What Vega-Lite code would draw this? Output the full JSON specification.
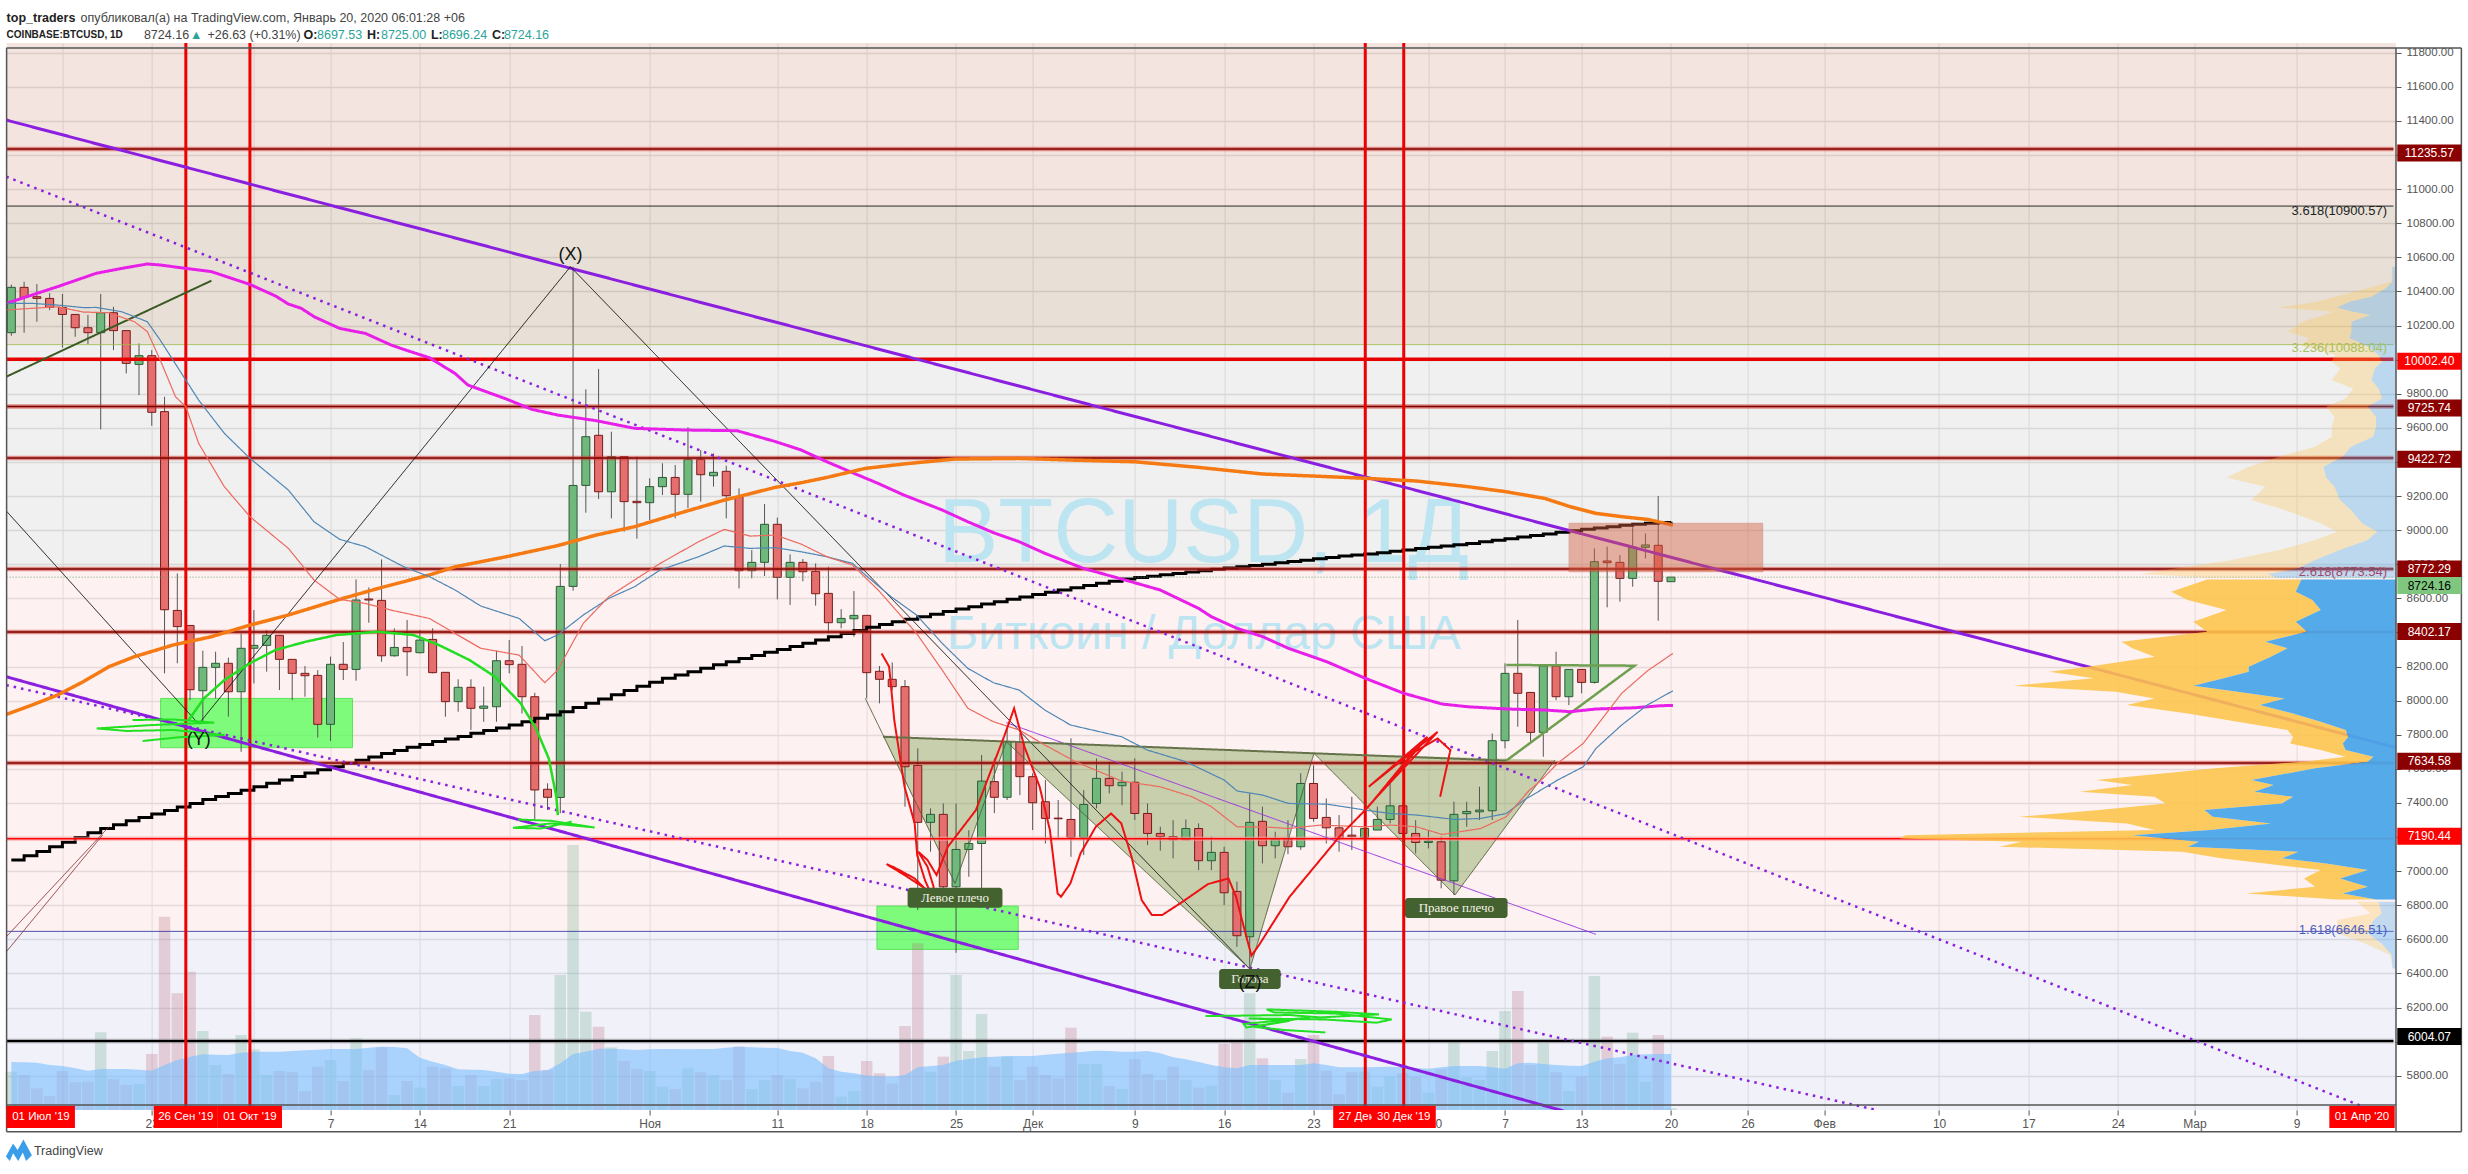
{"$schema":"https://vega.github.io/schema/vega-lite/v6.json","width":2389.4,"height":1067,"autosize":{"type":"none"},"padding":{"left":6.6,"top":43,"right":72,"bottom":64},"background":"#ffffff","usermeta":{"embedOptions":{"actions":false}},"config":{"view":{"stroke":null}},
"datasets":{
"candles":[
{"d":"2019-09-12","o":10158,"h":10440,"l":10140,"c":10424,"v":115,"m":144,"k":7065},{"d":"2019-09-13","o":10424,"h":10457,"l":10158,"c":10365,"v":105,"m":143,"k":7090},{"d":"2019-09-14","o":10369,"h":10443,"l":10222,"c":10359,"v":65,"m":142,"k":7115},{"d":"2019-09-15","o":10359,"h":10390,"l":10290,"c":10306,"v":42,"m":135,"k":7143},{"d":"2019-09-16","o":10306,"h":10385,"l":10070,"c":10265,"v":117,"m":132,"k":7170},{"d":"2019-09-17","o":10265,"h":10265,"l":10134,"c":10187,"v":83,"m":125,"k":7197},{"d":"2019-09-18","o":10187,"h":10262,"l":10089,"c":10158,"v":85,"m":118,"k":7225},{"d":"2019-09-19","o":10158,"h":10385,"l":9591,"c":10275,"v":233,"m":123,"k":7250},{"d":"2019-09-20","o":10275,"h":10310,"l":10056,"c":10170,"v":93,"m":123,"k":7272},{"d":"2019-09-21","o":10170,"h":10170,"l":9919,"c":9978,"v":75,"m":123,"k":7295},{"d":"2019-09-22","o":9972,"h":10095,"l":9792,"c":10023,"v":78,"m":121,"k":7315},{"d":"2019-09-23","o":10023,"h":10056,"l":9612,"c":9691,"v":168,"m":118,"k":7335},{"d":"2019-09-24","o":9695,"h":9782,"l":8160,"c":8533,"v":580,"m":135,"k":7355},{"d":"2019-09-25","o":8529,"h":8746,"l":8219,"c":8434,"v":350,"m":150,"k":7376},{"d":"2019-09-26","o":8441,"h":8441,"l":8003,"c":8064,"v":415,"m":160,"k":7397},{"d":"2019-09-27","o":8058,"h":8293,"l":7867,"c":8195,"v":237,"m":167,"k":7420},{"d":"2019-09-28","o":8195,"h":8287,"l":8013,"c":8219,"v":135,"m":166,"k":7438},{"d":"2019-09-29","o":8219,"h":8252,"l":7906,"c":8052,"v":108,"m":165,"k":7455},{"d":"2019-09-30","o":8052,"h":8394,"l":7700,"c":8307,"v":225,"m":172,"k":7475},
{"d":"2019-10-01","o":8307,"h":8531,"l":8101,"c":8324,"v":182,"m":175,"k":7495},{"d":"2019-10-02","o":8324,"h":8414,"l":8170,"c":8383,"v":105,"m":175,"k":7515},{"d":"2019-10-03","o":8383,"h":8383,"l":8062,"c":8242,"v":117,"m":175,"k":7535},{"d":"2019-10-04","o":8242,"h":8242,"l":8003,"c":8160,"v":114,"m":177,"k":7555},{"d":"2019-10-05","o":8160,"h":8203,"l":8023,"c":8146,"v":57,"m":179,"k":7575},{"d":"2019-10-06","o":8148,"h":8179,"l":7783,"c":7861,"v":130,"m":181,"k":7595},{"d":"2019-10-07","o":7861,"h":8258,"l":7763,"c":8213,"v":150,"m":183,"k":7612},{"d":"2019-10-08","o":8213,"h":8344,"l":8121,"c":8183,"v":87,"m":183,"k":7632},{"d":"2019-10-09","o":8183,"h":8711,"l":8117,"c":8590,"v":215,"m":183,"k":7650},{"d":"2019-10-10","o":8596,"h":8664,"l":8457,"c":8590,"v":120,"m":187,"k":7670},{"d":"2019-10-11","o":8588,"h":8828,"l":8228,"c":8263,"v":188,"m":190,"k":7690},{"d":"2019-10-12","o":8263,"h":8424,"l":8258,"c":8312,"v":45,"m":189,"k":7708},{"d":"2019-10-13","o":8312,"h":8473,"l":8144,"c":8287,"v":87,"m":185,"k":7726},{"d":"2019-10-14","o":8281,"h":8414,"l":8277,"c":8355,"v":67,"m":157,"k":7743},{"d":"2019-10-15","o":8359,"h":8424,"l":8160,"c":8164,"v":130,"m":145,"k":7760},{"d":"2019-10-16","o":8166,"h":8166,"l":7906,"c":7994,"v":125,"m":135,"k":7775},{"d":"2019-10-17","o":7994,"h":8125,"l":7935,"c":8078,"v":72,"m":122,"k":7790},{"d":"2019-10-18","o":8078,"h":8125,"l":7828,"c":7955,"v":105,"m":121,"k":7808},{"d":"2019-10-19","o":7955,"h":8082,"l":7876,"c":7968,"v":72,"m":120,"k":7825},{"d":"2019-10-20","o":7964,"h":8293,"l":7876,"c":8234,"v":93,"m":115,"k":7840},{"d":"2019-10-21","o":8234,"h":8355,"l":8160,"c":8211,"v":95,"m":109,"k":7857},{"d":"2019-10-22","o":8213,"h":8320,"l":7925,"c":8023,"v":90,"m":108,"k":7876},{"d":"2019-10-23","o":8023,"h":8046,"l":7299,"c":7476,"v":285,"m":117,"k":7896},{"d":"2019-10-24","o":7480,"h":7515,"l":7358,"c":7433,"v":120,"m":119,"k":7915},{"d":"2019-10-25","o":7432,"h":8801,"l":7340,"c":8670,"v":405,"m":140,"k":7935},{"d":"2019-10-26","o":8670,"h":10545,"l":8645,"c":9262,"v":795,"m":168,"k":7960},{"d":"2019-10-27","o":9262,"h":9826,"l":9102,"c":9548,"v":295,"m":175,"k":7985},{"d":"2019-10-28","o":9556,"h":9945,"l":9182,"c":9225,"v":250,"m":184,"k":8010},{"d":"2019-10-29","o":9225,"h":9577,"l":9069,"c":9431,"v":188,"m":184,"k":8035},{"d":"2019-10-30","o":9431,"h":9431,"l":8991,"c":9167,"v":147,"m":182,"k":8060},{"d":"2019-10-31","o":9169,"h":9431,"l":8950,"c":9161,"v":123,"m":180,"k":8085},
{"d":"2019-11-01","o":9161,"h":9304,"l":9059,"c":9255,"v":117,"m":182,"k":8108},{"d":"2019-11-02","o":9255,"h":9392,"l":9206,"c":9309,"v":70,"m":183,"k":8131},{"d":"2019-11-03","o":9309,"h":9382,"l":9069,"c":9210,"v":63,"m":183,"k":8150},{"d":"2019-11-04","o":9210,"h":9603,"l":9128,"c":9415,"v":125,"m":182,"k":8170},{"d":"2019-11-05","o":9415,"h":9470,"l":9167,"c":9325,"v":113,"m":183,"k":8190},{"d":"2019-11-06","o":9319,"h":9450,"l":9255,"c":9339,"v":105,"m":183,"k":8210},{"d":"2019-11-07","o":9345,"h":9378,"l":9069,"c":9202,"v":90,"m":187,"k":8228},{"d":"2019-11-08","o":9196,"h":9245,"l":8658,"c":8762,"v":190,"m":190,"k":8247},{"d":"2019-11-09","o":8762,"h":8883,"l":8717,"c":8811,"v":63,"m":188,"k":8265},{"d":"2019-11-10","o":8811,"h":9153,"l":8731,"c":9034,"v":90,"m":187,"k":8283},{"d":"2019-11-11","o":9034,"h":9073,"l":8594,"c":8723,"v":105,"m":186,"k":8300},{"d":"2019-11-12","o":8723,"h":8858,"l":8561,"c":8811,"v":93,"m":177,"k":8318},{"d":"2019-11-13","o":8811,"h":8830,"l":8700,"c":8756,"v":65,"m":172,"k":8336},{"d":"2019-11-14","o":8758,"h":8805,"l":8557,"c":8627,"v":85,"m":155,"k":8355},{"d":"2019-11-15","o":8629,"h":8785,"l":8394,"c":8457,"v":162,"m":125,"k":8375},{"d":"2019-11-16","o":8457,"h":8537,"l":8424,"c":8482,"v":40,"m":115,"k":8393},{"d":"2019-11-17","o":8480,"h":8643,"l":8375,"c":8500,"v":57,"m":110,"k":8412},{"d":"2019-11-18","o":8500,"h":8500,"l":8013,"c":8164,"v":147,"m":103,"k":8430},{"d":"2019-11-19","o":8172,"h":8203,"l":7984,"c":8125,"v":110,"m":101,"k":8446},{"d":"2019-11-20","o":8125,"h":8224,"l":8060,"c":8082,"v":79,"m":100,"k":8462},{"d":"2019-11-21","o":8082,"h":8121,"l":7378,"c":7612,"v":252,"m":105,"k":8477},{"d":"2019-11-22","o":7620,"h":7720,"l":6772,"c":7286,"v":500,"m":128,"k":8492},{"d":"2019-11-23","o":7286,"h":7368,"l":7114,"c":7333,"v":115,"m":132,"k":8507},{"d":"2019-11-24","o":7333,"h":7397,"l":6860,"c":6908,"v":160,"m":135,"k":8522},{"d":"2019-11-25","o":6908,"h":7397,"l":6521,"c":7127,"v":405,"m":148,"k":8537},{"d":"2019-11-26","o":7127,"h":7240,"l":6967,"c":7162,"v":177,"m":153,"k":8551},{"d":"2019-11-27","o":7162,"h":7681,"l":6801,"c":7528,"v":288,"m":158,"k":8566},{"d":"2019-11-28","o":7525,"h":7661,"l":7340,"c":7433,"v":130,"m":160,"k":8580},{"d":"2019-11-29","o":7433,"h":7840,"l":7417,"c":7759,"v":160,"m":162,"k":8594},{"d":"2019-11-30","o":7759,"h":7808,"l":7446,"c":7554,"v":90,"m":162,"k":8608},
{"d":"2019-12-01","o":7554,"h":7574,"l":7241,"c":7401,"v":130,"m":162,"k":8622},{"d":"2019-12-02","o":7407,"h":7534,"l":7162,"c":7309,"v":105,"m":166,"k":8636},{"d":"2019-12-03","o":7311,"h":7417,"l":7192,"c":7307,"v":95,"m":169,"k":8649},{"d":"2019-12-04","o":7303,"h":7779,"l":7084,"c":7198,"v":247,"m":172,"k":8662},{"d":"2019-12-05","o":7198,"h":7475,"l":7094,"c":7391,"v":138,"m":175,"k":8675},{"d":"2019-12-06","o":7397,"h":7661,"l":7368,"c":7544,"v":138,"m":178,"k":8688},{"d":"2019-12-07","o":7544,"h":7642,"l":7456,"c":7501,"v":72,"m":177,"k":8700},{"d":"2019-12-08","o":7501,"h":7583,"l":7387,"c":7521,"v":63,"m":175,"k":8713},{"d":"2019-12-09","o":7521,"h":7661,"l":7300,"c":7338,"v":153,"m":175,"k":8722},{"d":"2019-12-10","o":7338,"h":7397,"l":7153,"c":7221,"v":108,"m":177,"k":8730},{"d":"2019-12-11","o":7221,"h":7260,"l":7120,"c":7202,"v":90,"m":170,"k":8738},{"d":"2019-12-12","o":7202,"h":7299,"l":7075,"c":7184,"v":130,"m":158,"k":8746},{"d":"2019-12-13","o":7184,"h":7303,"l":7182,"c":7250,"v":90,"m":152,"k":8754},{"d":"2019-12-14","o":7250,"h":7280,"l":7006,"c":7061,"v":67,"m":144,"k":8762},{"d":"2019-12-15","o":7061,"h":7202,"l":7006,"c":7110,"v":73,"m":135,"k":8770},{"d":"2019-12-16","o":7110,"h":7143,"l":6801,"c":6873,"v":198,"m":128,"k":8778},{"d":"2019-12-17","o":6881,"h":6938,"l":6556,"c":6621,"v":205,"m":125,"k":8785},{"d":"2019-12-18","o":6615,"h":7456,"l":6426,"c":7286,"v":350,"m":135,"k":8792},{"d":"2019-12-19","o":7292,"h":7378,"l":7045,"c":7149,"v":155,"m":135,"k":8800},{"d":"2019-12-20","o":7149,"h":7231,"l":7075,"c":7188,"v":90,"m":135,"k":8808},{"d":"2019-12-21","o":7192,"h":7299,"l":7100,"c":7143,"v":52,"m":135,"k":8816},{"d":"2019-12-22","o":7143,"h":7574,"l":7125,"c":7514,"v":153,"m":135,"k":8824},{"d":"2019-12-23","o":7514,"h":7620,"l":7290,"c":7309,"v":225,"m":140,"k":8832},{"d":"2019-12-24","o":7315,"h":7426,"l":7162,"c":7254,"v":118,"m":135,"k":8840},{"d":"2019-12-25","o":7254,"h":7329,"l":7114,"c":7192,"v":47,"m":128,"k":8848},{"d":"2019-12-26","o":7211,"h":7436,"l":7123,"c":7202,"v":113,"m":128,"k":8854},{"d":"2019-12-27","o":7196,"h":7358,"l":7075,"c":7250,"v":115,"m":128,"k":8860},{"d":"2019-12-28","o":7241,"h":7378,"l":7241,"c":7303,"v":70,"m":129,"k":8868},{"d":"2019-12-29","o":7303,"h":7514,"l":7280,"c":7383,"v":100,"m":130,"k":8876},{"d":"2019-12-30","o":7383,"h":7397,"l":7153,"c":7221,"v":110,"m":128,"k":8884},{"d":"2019-12-31","o":7221,"h":7299,"l":7104,"c":7168,"v":100,"m":126,"k":8892},
{"d":"2020-01-01","o":7168,"h":7241,"l":7133,"c":7176,"v":52,"m":124,"k":8900},{"d":"2020-01-02","o":7172,"h":7202,"l":6899,"c":6947,"v":122,"m":128,"k":8907},{"d":"2020-01-03","o":6943,"h":7407,"l":6860,"c":7333,"v":205,"m":132,"k":8914},{"d":"2020-01-04","o":7337,"h":7407,"l":7260,"c":7350,"v":98,"m":132,"k":8922},{"d":"2020-01-05","o":7348,"h":7495,"l":7300,"c":7358,"v":90,"m":132,"k":8932},{"d":"2020-01-06","o":7354,"h":7808,"l":7300,"c":7765,"v":177,"m":128,"k":8941},{"d":"2020-01-07","o":7765,"h":8219,"l":7720,"c":8160,"v":297,"m":124,"k":8950},{"d":"2020-01-08","o":8160,"h":8473,"l":7847,"c":8043,"v":357,"m":140,"k":8960},{"d":"2020-01-09","o":8048,"h":8048,"l":7759,"c":7814,"v":135,"m":142,"k":8969},{"d":"2020-01-10","o":7814,"h":8203,"l":7671,"c":8203,"v":200,"m":138,"k":8978},{"d":"2020-01-11","o":8203,"h":8287,"l":8003,"c":8023,"v":113,"m":135,"k":8988},{"d":"2020-01-12","o":8023,"h":8183,"l":7974,"c":8183,"v":57,"m":133,"k":8997},{"d":"2020-01-13","o":8183,"h":8183,"l":8043,"c":8107,"v":100,"m":132,"k":9005},{"d":"2020-01-14","o":8107,"h":8893,"l":8100,"c":8815,"v":402,"m":145,"k":9012},{"d":"2020-01-15","o":8819,"h":8903,"l":8547,"c":8809,"v":220,"m":155,"k":9020},{"d":"2020-01-16","o":8811,"h":8854,"l":8580,"c":8717,"v":138,"m":158,"k":9028},{"d":"2020-01-17","o":8717,"h":9020,"l":8668,"c":8901,"v":232,"m":165,"k":9034},{"d":"2020-01-18","o":8899,"h":8981,"l":8834,"c":8913,"v":85,"m":167,"k":9040},{"d":"2020-01-19","o":8911,"h":9200,"l":8469,"c":8700,"v":225,"m":168,"k":9045},{"d":"2020-01-20","o":8697.53,"h":8725,"l":8696.24,"c":8724.16,"v":5,"m":168,"k":9049}
],
"profile":[
{"p":10545,"sell":3.6,"buy":3.6,"z":"out"},{"p":10457,"sell":4.7,"buy":3.6,"z":"out"},{"p":10418,"sell":28.3,"buy":10.1,"z":"out"},{"p":10369,"sell":60.9,"buy":24.6,"z":"out"},{"p":10340,"sell":79,"buy":46.4,"z":"out"},{"p":10306,"sell":117,"buy":59.1,"z":"out"},{"p":10281,"sell":62.7,"buy":42.8,"z":"out"},{"p":10261,"sell":71.7,"buy":25.4,"z":"out"},{"p":10222,"sell":93.5,"buy":44.6,"z":"out"},{"p":10164,"sell":108,"buy":44.6,"z":"out"},{"p":10125,"sell":86.2,"buy":46.4,"z":"out"},{"p":10085,"sell":95.3,"buy":30.1,"z":"out"},{"p":10027,"sell":60.9,"buy":17.4,"z":"out"},{"p":9988,"sell":64.5,"buy":13.8,"z":"out"},{"p":9949,"sell":55.4,"buy":21,"z":"out"},{"p":9880,"sell":64.5,"buy":24.6,"z":"out"},{"p":9831,"sell":42.8,"buy":17.4,"z":"out"},{"p":9773,"sell":50,"buy":13.8,"z":"out"},{"p":9724,"sell":69.8,"buy":28.2,"z":"out"},{"p":9665,"sell":61.5,"buy":19.9,"z":"out"},{"p":9607,"sell":64.2,"buy":19.9,"z":"out"},{"p":9548,"sell":64.2,"buy":22.7,"z":"out"},{"p":9489,"sell":80.8,"buy":44.9,"z":"out"},{"p":9431,"sell":116.8,"buy":53.2,"z":"out"},{"p":9372,"sell":147.3,"buy":72.5,"z":"out"},{"p":9309,"sell":169.4,"buy":69.8,"z":"out"},{"p":9255,"sell":130.7,"buy":61.5,"z":"out"},{"p":9176,"sell":144.5,"buy":55.9,"z":"out"},{"p":9118,"sell":111.3,"buy":44.9,"z":"out"},{"p":9040,"sell":75.3,"buy":33.8,"z":"out"},{"p":8991,"sell":58.7,"buy":18.8,"z":"out"},{"p":8942,"sell":80.8,"buy":28.2,"z":"out"},{"p":8883,"sell":116.8,"buy":55.9,"z":"out"},{"p":8825,"sell":163.9,"buy":80.8,"z":"out"},{"p":8776,"sell":219.3,"buy":97.5,"z":"out"},{"p":8742,"sell":255.3,"buy":127.9,"z":"out"},{"p":8720,"sell":186,"buy":119.6,"z":"out"},
{"p":8711,"sell":188.8,"buy":94.7,"z":"va"},{"p":8639,"sell":224.8,"buy":100.2,"z":"va"},{"p":8590,"sell":208.2,"buy":83.6,"z":"va"},{"p":8531,"sell":169.4,"buy":75.3,"z":"va"},{"p":8463,"sell":202.7,"buy":100.2,"z":"va"},{"p":8404,"sell":188.8,"buy":89.1,"z":"va"},{"p":8346,"sell":274.6,"buy":130.7,"z":"va"},{"p":8307,"sell":263.6,"buy":108.5,"z":"va"},{"p":8258,"sell":241.4,"buy":125.1,"z":"va"},{"p":8199,"sell":307.9,"buy":147.3,"z":"va"},{"p":8170,"sell":346.6,"buy":147.3,"z":"va"},{"p":8131,"sell":302.3,"buy":172.2,"z":"va"},{"p":8087,"sell":382.6,"buy":202.7,"z":"va"},{"p":8052,"sell":280.2,"buy":158.4,"z":"va"},{"p":8013,"sell":241.4,"buy":111.3,"z":"va"},{"p":7974,"sell":269.1,"buy":136.2,"z":"va"},{"p":7925,"sell":208.2,"buy":103,"z":"va"},{"p":7876,"sell":158.4,"buy":75.3,"z":"va"},{"p":7828,"sell":108.5,"buy":50.4,"z":"va"},{"p":7788,"sell":103,"buy":47.6,"z":"va"},{"p":7749,"sell":105.8,"buy":53.2,"z":"va"},{"p":7710,"sell":75.3,"buy":50.4,"z":"va"},{"p":7671,"sell":50.4,"buy":22.7,"z":"va"},{"p":7642,"sell":91.9,"buy":28.2,"z":"va"},{"p":7603,"sell":180.5,"buy":80.8,"z":"va"},{"p":7534,"sell":299.6,"buy":144.5,"z":"va"},{"p":7505,"sell":263.6,"buy":122.4,"z":"va"},{"p":7466,"sell":316.2,"buy":141.7,"z":"va"},{"p":7436,"sell":241.4,"buy":103,"z":"va"},{"p":7397,"sell":230.3,"buy":114.1,"z":"va"},{"p":7358,"sell":296.8,"buy":191.6,"z":"va"},{"p":7319,"sell":377.1,"buy":183.3,"z":"va"},{"p":7280,"sell":269.1,"buy":125.1,"z":"va"},{"p":7241,"sell":241.4,"buy":186,"z":"va"},{"p":7211,"sell":490.6,"buy":263.6,"z":"va"},{"p":7192,"sell":496.1,"buy":230.3,"z":"va"},{"p":7172,"sell":374.3,"buy":197.1,"z":"va"},{"p":7143,"sell":396.5,"buy":208.2,"z":"va"},{"p":7114,"sell":213.7,"buy":97.5,"z":"va"},{"p":7075,"sell":175,"buy":114.1,"z":"va"},{"p":7045,"sell":130.7,"buy":69.8,"z":"va"},{"p":7006,"sell":75.3,"buy":28.2,"z":"va"},{"p":6957,"sell":91.9,"buy":55.9,"z":"va"},{"p":6908,"sell":80.8,"buy":28.2,"z":"va"},{"p":6869,"sell":150,"buy":53.2,"z":"va"},{"p":6834,"sell":58.7,"buy":19.9,"z":"va"},
{"p":6820,"sell":39.3,"buy":17.2,"z":"low"},{"p":6752,"sell":25.5,"buy":14.4,"z":"low"},{"p":6713,"sell":58.7,"buy":22.7,"z":"low"},{"p":6635,"sell":58.7,"buy":28.2,"z":"low"},{"p":6576,"sell":31,"buy":14.4,"z":"low"},{"p":6508,"sell":6.1,"buy":4.4,"z":"low"},{"p":6429,"sell":3.3,"buy":3.3,"z":"low"}
],
"lines":[
{"id":"ta","s":"trend","i":1,"day":-19,"p":11405},{"id":"ta","s":"trend","i":2,"day":167.4,"p":7724},
{"id":"tb","s":"trend","i":1,"day":-19,"p":8140},{"id":"tb","s":"trend","i":2,"day":103,"p":5582},
{"id":"da","s":"dot","i":1,"day":-19,"p":11073},{"id":"da","s":"dot","i":2,"day":167,"p":5554},
{"id":"db","s":"dot","i":1,"day":-19,"p":8091},{"id":"db","s":"dot","i":2,"day":127,"p":5597},
{"id":"th","s":"thin","i":1,"day":59,"p":7871},{"id":"th","s":"thin","i":2,"day":105,"p":6629},
{"id":"zz","s":"zig","i":1,"day":-19,"p":9112},{"id":"zz","s":"zig","i":2,"day":-4,"p":7863},{"id":"zz","s":"zig","i":3,"day":25,"p":10545},{"id":"zz","s":"zig","i":4,"day":78,"p":6426},
{"id":"n1","s":"neck","i":1,"day":49.4,"p":7788},{"id":"n1","s":"neck","i":2,"day":83,"p":7691},{"id":"n1","s":"neck","i":3,"day":98,"p":7648},
{"id":"n2","s":"edge","i":1,"day":48,"p":8013},{"id":"n2","s":"edge","i":2,"day":55,"p":6928},{"id":"n2","s":"edge","i":3,"day":59,"p":7759},{"id":"n2","s":"edge","i":4,"day":78,"p":6426},{"id":"n2","s":"edge","i":5,"day":83,"p":7691},{"id":"n2","s":"edge","i":6,"day":94,"p":6860},{"id":"n2","s":"edge","i":7,"day":101.8,"p":7652},
{"id":"r1","s":"dred","i":1,"day":-19,"p":6615},{"id":"r1","s":"dred","i":2,"day":-11,"p":7260},{"id":"r2","s":"dred","i":1,"day":-19,"p":6527},{"id":"r2","s":"dred","i":2,"day":-11.5,"p":7211},
{"id":"g1","s":"dgrn","i":1,"day":-19,"p":9900},{"id":"g1","s":"dgrn","i":2,"day":-3,"p":10463},
{"id":"g2","s":"gtri","i":1,"day":98,"p":8209},{"id":"g2","s":"gtri","i":2,"day":108,"p":8205},{"id":"g2","s":"gtri","i":3,"day":98,"p":7648},
{"id":"mag","s":"mag","i":1,"day":-19,"p":10330},{"id":"mag","s":"mag","i":2,"day":-17,"p":10379},{"id":"mag","s":"mag","i":3,"day":-15,"p":10428},{"id":"mag","s":"mag","i":4,"day":-12,"p":10506},{"id":"mag","s":"mag","i":5,"day":-10,"p":10535},{"id":"mag","s":"mag","i":6,"day":-8,"p":10561},{"id":"mag","s":"mag","i":7,"day":-7,"p":10555},{"id":"mag","s":"mag","i":8,"day":-5,"p":10535},{"id":"mag","s":"mag","i":9,"day":-3,"p":10516},{"id":"mag","s":"mag","i":10,"day":0,"p":10441},{"id":"mag","s":"mag","i":11,"day":2,"p":10373},{"id":"mag","s":"mag","i":12,"day":3,"p":10326},{"id":"mag","s":"mag","i":13,"day":4,"p":10301},{"id":"mag","s":"mag","i":14,"day":5,"p":10252},{"id":"mag","s":"mag","i":15,"day":7,"p":10183},{"id":"mag","s":"mag","i":16,"day":9,"p":10154},{"id":"mag","s":"mag","i":17,"day":11,"p":10086},{"id":"mag","s":"mag","i":18,"day":12,"p":10060},{"id":"mag","s":"mag","i":19,"day":14,"p":10011},{"id":"mag","s":"mag","i":20,"day":16,"p":9919},{"id":"mag","s":"mag","i":21,"day":17,"p":9851},{"id":"mag","s":"mag","i":22,"day":20,"p":9769},{"id":"mag","s":"mag","i":23,"day":22,"p":9708},{"id":"mag","s":"mag","i":24,"day":24,"p":9675},{"id":"mag","s":"mag","i":25,"day":27,"p":9642},{"id":"mag","s":"mag","i":26,"day":30,"p":9597},{"id":"mag","s":"mag","i":27,"day":34,"p":9587},{"id":"mag","s":"mag","i":28,"day":38,"p":9583},{"id":"mag","s":"mag","i":29,"day":41,"p":9519},{"id":"mag","s":"mag","i":30,"day":43,"p":9470},{"id":"mag","s":"mag","i":31,"day":45,"p":9401},{"id":"mag","s":"mag","i":32,"day":47,"p":9337},{"id":"mag","s":"mag","i":33,"day":49,"p":9274},{"id":"mag","s":"mag","i":34,"day":51,"p":9206},{"id":"mag","s":"mag","i":35,"day":54,"p":9118},{"id":"mag","s":"mag","i":36,"day":56,"p":9049},{"id":"mag","s":"mag","i":37,"day":58,"p":8985},{"id":"mag","s":"mag","i":38,"day":60,"p":8932},{"id":"mag","s":"mag","i":39,"day":62,"p":8864},{"id":"mag","s":"mag","i":40,"day":65,"p":8776},{"id":"mag","s":"mag","i":41,"day":68,"p":8713},{"id":"mag","s":"mag","i":42,"day":71,"p":8649},{"id":"mag","s":"mag","i":43,"day":74,"p":8541},{"id":"mag","s":"mag","i":44,"day":75,"p":8492},{"id":"mag","s":"mag","i":45,"day":77,"p":8424},{"id":"mag","s":"mag","i":46,"day":79,"p":8375},{"id":"mag","s":"mag","i":47,"day":81,"p":8307},{"id":"mag","s":"mag","i":48,"day":84,"p":8228},{"id":"mag","s":"mag","i":49,"day":87,"p":8131},{"id":"mag","s":"mag","i":50,"day":90,"p":8043},{"id":"mag","s":"mag","i":51,"day":93,"p":7980},{"id":"mag","s":"mag","i":52,"day":95,"p":7964},{"id":"mag","s":"mag","i":53,"day":98,"p":7951},{"id":"mag","s":"mag","i":54,"day":101,"p":7945},{"id":"mag","s":"mag","i":55,"day":103,"p":7935},{"id":"mag","s":"mag","i":56,"day":105,"p":7951},{"id":"mag","s":"mag","i":57,"day":108,"p":7958},{"id":"mag","s":"mag","i":58,"day":110,"p":7970},{"id":"mag","s":"mag","i":59,"day":111,"p":7972},
{"id":"ora","s":"ora","i":1,"day":-19,"p":7919},{"id":"ora","s":"ora","i":2,"day":-17,"p":7974},{"id":"ora","s":"ora","i":3,"day":-15,"p":8033},{"id":"ora","s":"ora","i":4,"day":-13,"p":8111},{"id":"ora","s":"ora","i":5,"day":-11,"p":8199},{"id":"ora","s":"ora","i":6,"day":-9,"p":8258},{"id":"ora","s":"ora","i":7,"day":-6,"p":8326},{"id":"ora","s":"ora","i":8,"day":-3,"p":8375},{"id":"ora","s":"ora","i":9,"day":0,"p":8443},{"id":"ora","s":"ora","i":10,"day":3,"p":8502},{"id":"ora","s":"ora","i":11,"day":7,"p":8594},{"id":"ora","s":"ora","i":12,"day":10,"p":8658},{"id":"ora","s":"ora","i":13,"day":14,"p":8737},{"id":"ora","s":"ora","i":14,"day":16,"p":8785},{"id":"ora","s":"ora","i":15,"day":20,"p":8844},{"id":"ora","s":"ora","i":16,"day":24,"p":8909},{"id":"ora","s":"ora","i":17,"day":27,"p":8971},{"id":"ora","s":"ora","i":18,"day":30,"p":9020},{"id":"ora","s":"ora","i":19,"day":33,"p":9088},{"id":"ora","s":"ora","i":20,"day":37,"p":9176},{"id":"ora","s":"ora","i":21,"day":41,"p":9251},{"id":"ora","s":"ora","i":22,"day":43,"p":9278},{"id":"ora","s":"ora","i":23,"day":45,"p":9309},{"id":"ora","s":"ora","i":24,"day":48,"p":9362},{"id":"ora","s":"ora","i":25,"day":51,"p":9388},{"id":"ora","s":"ora","i":26,"day":55,"p":9417},{"id":"ora","s":"ora","i":27,"day":60,"p":9421},{"id":"ora","s":"ora","i":28,"day":64,"p":9411},{"id":"ora","s":"ora","i":29,"day":69,"p":9401},{"id":"ora","s":"ora","i":30,"day":74,"p":9368},{"id":"ora","s":"ora","i":31,"day":79,"p":9329},{"id":"ora","s":"ora","i":32,"day":83,"p":9317},{"id":"ora","s":"ora","i":33,"day":87,"p":9304},{"id":"ora","s":"ora","i":34,"day":91,"p":9288},{"id":"ora","s":"ora","i":35,"day":95,"p":9255},{"id":"ora","s":"ora","i":36,"day":98,"p":9225},{"id":"ora","s":"ora","i":37,"day":101,"p":9186},{"id":"ora","s":"ora","i":38,"day":103,"p":9137},{"id":"ora","s":"ora","i":39,"day":105,"p":9098},{"id":"ora","s":"ora","i":40,"day":107,"p":9079},{"id":"ora","s":"ora","i":41,"day":109,"p":9063},{"id":"ora","s":"ora","i":42,"day":111,"p":9030},
{"id":"blu","s":"blu","i":1,"day":-19,"p":10330},{"id":"blu","s":"blu","i":2,"day":-17,"p":10330},{"id":"blu","s":"blu","i":3,"day":-15,"p":10320},{"id":"blu","s":"blu","i":4,"day":-13,"p":10305},{"id":"blu","s":"blu","i":5,"day":-12,"p":10306},{"id":"blu","s":"blu","i":6,"day":-10,"p":10281},{"id":"blu","s":"blu","i":7,"day":-8,"p":10222},{"id":"blu","s":"blu","i":8,"day":-7,"p":10115},{"id":"blu","s":"blu","i":9,"day":-5,"p":9880},{"id":"blu","s":"blu","i":10,"day":-4,"p":9763},{"id":"blu","s":"blu","i":11,"day":-2,"p":9568},{"id":"blu","s":"blu","i":12,"day":0,"p":9421},{"id":"blu","s":"blu","i":13,"day":3,"p":9235},{"id":"blu","s":"blu","i":14,"day":5,"p":9049},{"id":"blu","s":"blu","i":15,"day":7,"p":8946},{"id":"blu","s":"blu","i":16,"day":9,"p":8903},{"id":"blu","s":"blu","i":17,"day":12,"p":8785},{"id":"blu","s":"blu","i":18,"day":14,"p":8727},{"id":"blu","s":"blu","i":19,"day":16,"p":8649},{"id":"blu","s":"blu","i":20,"day":18,"p":8555},{"id":"blu","s":"blu","i":21,"day":21,"p":8482},{"id":"blu","s":"blu","i":22,"day":23,"p":8351},{"id":"blu","s":"blu","i":23,"day":24,"p":8385},{"id":"blu","s":"blu","i":24,"day":26,"p":8502},{"id":"blu","s":"blu","i":25,"day":28,"p":8600},{"id":"blu","s":"blu","i":26,"day":30,"p":8668},{"id":"blu","s":"blu","i":27,"day":32,"p":8766},{"id":"blu","s":"blu","i":28,"day":35,"p":8844},{"id":"blu","s":"blu","i":29,"day":37,"p":8907},{"id":"blu","s":"blu","i":30,"day":39,"p":8893},{"id":"blu","s":"blu","i":31,"day":41,"p":8897},{"id":"blu","s":"blu","i":32,"day":43,"p":8873},{"id":"blu","s":"blu","i":33,"day":45,"p":8844},{"id":"blu","s":"blu","i":34,"day":47,"p":8805},{"id":"blu","s":"blu","i":35,"day":48,"p":8737},{"id":"blu","s":"blu","i":36,"day":50,"p":8610},{"id":"blu","s":"blu","i":37,"day":52,"p":8502},{"id":"blu","s":"blu","i":38,"day":54,"p":8336},{"id":"blu","s":"blu","i":39,"day":56,"p":8189},{"id":"blu","s":"blu","i":40,"day":58,"p":8105},{"id":"blu","s":"blu","i":41,"day":60,"p":8062},{"id":"blu","s":"blu","i":42,"day":62,"p":7945},{"id":"blu","s":"blu","i":43,"day":64,"p":7857},{"id":"blu","s":"blu","i":44,"day":68,"p":7788},{"id":"blu","s":"blu","i":45,"day":70,"p":7710},{"id":"blu","s":"blu","i":46,"day":73,"p":7642},{"id":"blu","s":"blu","i":47,"day":76,"p":7534},{"id":"blu","s":"blu","i":48,"day":77,"p":7470},{"id":"blu","s":"blu","i":49,"day":79,"p":7446},{"id":"blu","s":"blu","i":50,"day":81,"p":7397},{"id":"blu","s":"blu","i":51,"day":84,"p":7393},{"id":"blu","s":"blu","i":52,"day":87,"p":7358},{"id":"blu","s":"blu","i":53,"day":89,"p":7338},{"id":"blu","s":"blu","i":54,"day":91,"p":7329},{"id":"blu","s":"blu","i":55,"day":94,"p":7303},{"id":"blu","s":"blu","i":56,"day":96,"p":7309},{"id":"blu","s":"blu","i":57,"day":98,"p":7338},{"id":"blu","s":"blu","i":58,"day":99.4,"p":7417},{"id":"blu","s":"blu","i":59,"day":102,"p":7534},{"id":"blu","s":"blu","i":60,"day":104,"p":7612},{"id":"blu","s":"blu","i":61,"day":105,"p":7720},{"id":"blu","s":"blu","i":62,"day":107,"p":7857},{"id":"blu","s":"blu","i":63,"day":109,"p":7974},{"id":"blu","s":"blu","i":64,"day":111,"p":8058},
{"id":"rth","s":"rth","i":1,"day":-19,"p":10291},{"id":"rth","s":"rth","i":2,"day":-17,"p":10301},{"id":"rth","s":"rth","i":3,"day":-15,"p":10310},{"id":"rth","s":"rth","i":4,"day":-13,"p":10279},{"id":"rth","s":"rth","i":5,"day":-11,"p":10275},{"id":"rth","s":"rth","i":6,"day":-9,"p":10222},{"id":"rth","s":"rth","i":7,"day":-8,"p":10164},{"id":"rth","s":"rth","i":8,"day":-7,"p":9998},{"id":"rth","s":"rth","i":9,"day":-5.8,"p":9782},{"id":"rth","s":"rth","i":10,"day":-5,"p":9724},{"id":"rth","s":"rth","i":11,"day":-4,"p":9509},{"id":"rth","s":"rth","i":12,"day":-2,"p":9255},{"id":"rth","s":"rth","i":13,"day":0,"p":9079},{"id":"rth","s":"rth","i":14,"day":3,"p":8893},{"id":"rth","s":"rth","i":15,"day":5,"p":8707},{"id":"rth","s":"rth","i":16,"day":7,"p":8594},{"id":"rth","s":"rth","i":17,"day":9,"p":8570},{"id":"rth","s":"rth","i":18,"day":11,"p":8531},{"id":"rth","s":"rth","i":19,"day":14,"p":8482},{"id":"rth","s":"rth","i":20,"day":16,"p":8394},{"id":"rth","s":"rth","i":21,"day":18,"p":8307},{"id":"rth","s":"rth","i":22,"day":21,"p":8267},{"id":"rth","s":"rth","i":23,"day":23,"p":8105},{"id":"rth","s":"rth","i":24,"day":24,"p":8179},{"id":"rth","s":"rth","i":25,"day":26,"p":8453},{"id":"rth","s":"rth","i":26,"day":28,"p":8610},{"id":"rth","s":"rth","i":27,"day":32,"p":8805},{"id":"rth","s":"rth","i":28,"day":35,"p":8932},{"id":"rth","s":"rth","i":29,"day":37,"p":9004},{"id":"rth","s":"rth","i":30,"day":39,"p":8965},{"id":"rth","s":"rth","i":31,"day":41,"p":8971},{"id":"rth","s":"rth","i":32,"day":43,"p":8918},{"id":"rth","s":"rth","i":33,"day":45,"p":8844},{"id":"rth","s":"rth","i":34,"day":47,"p":8795},{"id":"rth","s":"rth","i":35,"day":49,"p":8649},{"id":"rth","s":"rth","i":36,"day":52,"p":8394},{"id":"rth","s":"rth","i":37,"day":54,"p":8179},{"id":"rth","s":"rth","i":38,"day":56,"p":7955},{"id":"rth","s":"rth","i":39,"day":58,"p":7876},{"id":"rth","s":"rth","i":40,"day":60,"p":7828},{"id":"rth","s":"rth","i":41,"day":62,"p":7740},{"id":"rth","s":"rth","i":42,"day":64.4,"p":7642},{"id":"rth","s":"rth","i":43,"day":68,"p":7528},{"id":"rth","s":"rth","i":44,"day":71,"p":7495},{"id":"rth","s":"rth","i":45,"day":73.5,"p":7436},{"id":"rth","s":"rth","i":46,"day":75,"p":7378},{"id":"rth","s":"rth","i":47,"day":77,"p":7260},{"id":"rth","s":"rth","i":48,"day":79,"p":7260},{"id":"rth","s":"rth","i":49,"day":81,"p":7250},{"id":"rth","s":"rth","i":50,"day":83.5,"p":7270},{"id":"rth","s":"rth","i":51,"day":87,"p":7260},{"id":"rth","s":"rth","i":52,"day":89,"p":7270},{"id":"rth","s":"rth","i":53,"day":91,"p":7260},{"id":"rth","s":"rth","i":54,"day":93,"p":7215},{"id":"rth","s":"rth","i":55,"day":96,"p":7250},{"id":"rth","s":"rth","i":56,"day":98,"p":7319},{"id":"rth","s":"rth","i":57,"day":99.8,"p":7475},{"id":"rth","s":"rth","i":58,"day":100.6,"p":7524},{"id":"rth","s":"rth","i":59,"day":102,"p":7632},{"id":"rth","s":"rth","i":60,"day":104,"p":7749},{"id":"rth","s":"rth","i":61,"day":105,"p":7847},{"id":"rth","s":"rth","i":62,"day":107,"p":8043},{"id":"rth","s":"rth","i":63,"day":109,"p":8174},{"id":"rth","s":"rth","i":64,"day":111,"p":8277},
{"id":"rs","s":"rscr","i":1,"day":49.27,"p":8277},{"id":"rs","s":"rscr","i":2,"day":49.86,"p":8199},{"id":"rs","s":"rscr","i":3,"day":50.26,"p":7886},{"id":"rs","s":"rscr","i":4,"day":51.06,"p":7495},{"id":"rs","s":"rscr","i":5,"day":51.85,"p":7280},{"id":"rs","s":"rscr","i":6,"day":52.05,"p":7094},{"id":"rs","s":"rscr","i":7,"day":52.65,"p":6948},{"id":"rs","s":"rscr","i":8,"day":53.17,"p":6859},{"id":"rs","s":"rscr","i":9,"day":52.65,"p":6899},{"id":"rs","s":"rscr","i":10,"day":51.06,"p":6977},{"id":"rs","s":"rscr","i":11,"day":49.66,"p":7041},{"id":"rs","s":"rscr","i":12,"day":50.26,"p":7022},{"id":"rs","s":"rscr","i":13,"day":51.85,"p":6957},{"id":"rs","s":"rscr","i":14,"day":53.17,"p":6859},{"id":"rs","s":"rscr","i":15,"day":53.33,"p":6908},{"id":"rs","s":"rscr","i":16,"day":52.85,"p":7026},{"id":"rs","s":"rscr","i":17,"day":52.13,"p":7114},{"id":"rs","s":"rscr","i":18,"day":52.85,"p":7065},{"id":"rs","s":"rscr","i":19,"day":53.56,"p":6977},{"id":"rs","s":"rscr","i":20,"day":54.44,"p":7143},{"id":"rs","s":"rscr","i":21,"day":56.63,"p":7358},{"id":"rs","s":"rscr","i":22,"day":57.82,"p":7593},{"id":"rs","s":"rscr","i":23,"day":58.82,"p":7788},{"id":"rs","s":"rscr","i":24,"day":59.61,"p":7954},{"id":"rs","s":"rscr","i":25,"day":60.41,"p":7730},{"id":"rs","s":"rscr","i":26,"day":61.6,"p":7495},{"id":"rs","s":"rscr","i":27,"day":62.4,"p":7241},{"id":"rs","s":"rscr","i":28,"day":63,"p":6869},{"id":"rs","s":"rscr","i":29,"day":63.27,"p":6850},{"id":"rs","s":"rscr","i":30,"day":64,"p":6928},{"id":"rs","s":"rscr","i":31,"day":64.79,"p":7104},{"id":"rs","s":"rscr","i":32,"day":65.98,"p":7260},{"id":"rs","s":"rscr","i":33,"day":67.17,"p":7338},{"id":"rs","s":"rscr","i":34,"day":67.97,"p":7280},{"id":"rs","s":"rscr","i":35,"day":68.77,"p":7084},{"id":"rs","s":"rscr","i":36,"day":69.56,"p":6830},{"id":"rs","s":"rscr","i":37,"day":70.36,"p":6742},{"id":"rs","s":"rscr","i":38,"day":71.15,"p":6742},{"id":"rs","s":"rscr","i":39,"day":72.74,"p":6820},{"id":"rs","s":"rscr","i":40,"day":74.73,"p":6924},{"id":"rs","s":"rscr","i":41,"day":76.33,"p":6957},{"id":"rs","s":"rscr","i":42,"day":76.92,"p":6850},{"id":"rs","s":"rscr","i":43,"day":77.52,"p":6674},{"id":"rs","s":"rscr","i":44,"day":78.12,"p":6504},{"id":"rs","s":"rscr","i":45,"day":78.71,"p":6566},{"id":"rs","s":"rscr","i":46,"day":81.1,"p":6850},{"id":"rs","s":"rscr","i":47,"day":85.08,"p":7211},{"id":"rs","s":"rscr","i":48,"day":86.99,"p":7358},{"id":"rs","s":"rscr","i":49,"day":89.06,"p":7534},{"id":"rs","s":"rscr","i":50,"day":91.85,"p":7788},{"id":"rs","s":"rscr","i":51,"day":87.27,"p":7495},{"id":"rs","s":"rscr","i":52,"day":92.64,"p":7817},{"id":"rs","s":"rscr","i":53,"day":87.67,"p":7417},{"id":"rs","s":"rscr","i":54,"day":90.65,"p":7690},{"id":"rs","s":"rscr","i":55,"day":92.64,"p":7778},{"id":"rs","s":"rscr","i":56,"day":93.64,"p":7710},{"id":"rs","s":"rscr","i":57,"day":92.84,"p":7436},
{"id":"arc","s":"arc","i":1,"day":-4.78,"p":7886},{"id":"arc","s":"arc","i":2,"day":-3.59,"p":8013},{"id":"arc","s":"arc","i":3,"day":-1.99,"p":8121},{"id":"arc","s":"arc","i":4,"day":0,"p":8219},{"id":"arc","s":"arc","i":5,"day":1.99,"p":8297},{"id":"arc","s":"arc","i":6,"day":4.38,"p":8346},{"id":"arc","s":"arc","i":7,"day":6.77,"p":8385},{"id":"arc","s":"arc","i":8,"day":9.96,"p":8404},{"id":"arc","s":"arc","i":9,"day":12.75,"p":8385},{"id":"arc","s":"arc","i":10,"day":14.74,"p":8326},{"id":"arc","s":"arc","i":11,"day":17.13,"p":8238},{"id":"arc","s":"arc","i":12,"day":19.12,"p":8140},{"id":"arc","s":"arc","i":13,"day":21.12,"p":7984},{"id":"arc","s":"arc","i":14,"day":22.31,"p":7837},{"id":"arc","s":"arc","i":15,"day":23.31,"p":7661},{"id":"arc","s":"arc","i":16,"day":23.9,"p":7437},{"id":"arc","s":"arc","i":17,"day":24.02,"p":7329},
{"id":"ga","s":"gscr","i":1,"day":-9.16,"p":7886},{"id":"ga","s":"gscr","i":2,"day":-5.98,"p":7890},{"id":"ga","s":"gscr","i":3,"day":-2.79,"p":7871},{"id":"ga","s":"gscr","i":4,"day":-7.57,"p":7857},{"id":"ga","s":"gscr","i":5,"day":-11.95,"p":7837},{"id":"ga","s":"gscr","i":6,"day":-9.56,"p":7822},{"id":"ga","s":"gscr","i":7,"day":-5.98,"p":7828},{"id":"ga","s":"gscr","i":8,"day":-1.99,"p":7798},{"id":"ga","s":"gscr","i":9,"day":-5.58,"p":7785},{"id":"ga","s":"gscr","i":10,"day":-8.37,"p":7763},
{"id":"gb","s":"gscr","i":1,"day":20.92,"p":7303},{"id":"gb","s":"gscr","i":2,"day":23.5,"p":7295},{"id":"gb","s":"gscr","i":3,"day":26.89,"p":7256},{"id":"gb","s":"gscr","i":4,"day":23.5,"p":7280},{"id":"gb","s":"gscr","i":5,"day":20.52,"p":7254},{"id":"gb","s":"gscr","i":6,"day":22.71,"p":7250},{"id":"gb","s":"gscr","i":7,"day":25.1,"p":7290},
{"id":"gc","s":"gscr","i":1,"day":74.54,"p":6150},{"id":"gc","s":"gscr","i":2,"day":81.1,"p":6156},{"id":"gc","s":"gscr","i":3,"day":83.49,"p":6142},{"id":"gc","s":"gscr","i":4,"day":88.07,"p":6160},{"id":"gc","s":"gscr","i":5,"day":84.68,"p":6175},{"id":"gc","s":"gscr","i":6,"day":79.31,"p":6189},{"id":"gc","s":"gscr","i":7,"day":79.91,"p":6171},{"id":"gc","s":"gscr","i":8,"day":84.68,"p":6165},{"id":"gc","s":"gscr","i":9,"day":89.06,"p":6130},{"id":"gc","s":"gscr","i":10,"day":87.87,"p":6111},{"id":"gc","s":"gscr","i":11,"day":83.89,"p":6130},{"id":"gc","s":"gscr","i":12,"day":77.92,"p":6136},{"id":"gc","s":"gscr","i":13,"day":81.1,"p":6126},{"id":"gc","s":"gscr","i":14,"day":82.69,"p":6142},{"id":"gc","s":"gscr","i":15,"day":77.52,"p":6103},{"id":"gc","s":"gscr","i":16,"day":77.72,"p":6083},{"id":"gc","s":"gscr","i":17,"day":81.1,"p":6122},{"id":"gc","s":"gscr","i":18,"day":78.31,"p":6087},{"id":"gc","s":"gscr","i":19,"day":80.7,"p":6068},{"id":"gc","s":"gscr","i":20,"day":83.89,"p":6054}
],
"rules":[
{"k":"dred","day":-18.98,"day2":167.2,"p":11235.57,"p2":11235.57},{"k":"blkthin","day":-18.98,"day2":167.2,"p":10900.57,"p2":10900.57},{"k":"grn","day":-18.98,"day2":167.2,"p":10088.04,"p2":10088.04},{"k":"red","day":-18.98,"day2":167.2,"p":10002.4,"p2":10002.4},{"k":"dred","day":-18.98,"day2":167.2,"p":9725.74,"p2":9725.74},{"k":"dred","day":-18.98,"day2":167.2,"p":9422.72,"p2":9422.72},{"k":"dred","day":-18.98,"day2":167.2,"p":8772.29,"p2":8772.29},{"k":"dot","day":-18.98,"day2":167.2,"p":8724.16,"p2":8724.16},{"k":"dred","day":-18.98,"day2":167.2,"p":8402.17,"p2":8402.17},{"k":"dred","day":-18.98,"day2":167.2,"p":7634.58,"p2":7634.58},{"k":"red2","day":-18.98,"day2":167.2,"p":7190.44,"p2":7190.44},{"k":"navy","day":-18.98,"day2":167.2,"p":6646.51,"p2":6646.51},{"k":"blk","day":-18.98,"day2":167.2,"p":6004.07,"p2":6004.07},
{"k":"vert","day":-5,"day2":-5,"p":5599,"p2":11857},{"k":"vert","day":0,"day2":0,"p":5599,"p2":11857},{"k":"vert","day":87,"day2":87,"p":5599,"p2":11857},{"k":"vert","day":90,"day2":90,"p":5599,"p2":11857}
],
"frame":[
{"day":-18.98,"day2":172.5,"p":11857,"p2":11857},{"day":-18.98,"day2":172.5,"p":5440,"p2":5440},{"day":-18.98,"day2":-18.98,"p":5440,"p2":11857},{"day":172.5,"day2":172.5,"p":5440,"p2":11857},{"day":167.4,"day2":167.4,"p":5440,"p2":11857},{"day":-18.98,"day2":167.4,"p":5599,"p2":5599}
],
"zones":[
{"day":-18.98,"day2":167.4,"p":11857,"p2":10900.57,"k":"a"},{"day":-18.98,"day2":167.4,"p":10900.57,"p2":10088.04,"k":"b"},{"day":-18.98,"day2":167.4,"p":10088.04,"p2":8773.54,"k":"c"},{"day":-18.98,"day2":167.4,"p":8773.54,"p2":6646.51,"k":"d"},{"day":-18.98,"day2":167.4,"p":6646.51,"p2":5599,"k":"e"}
],
"greenboxes":[
{"day":-6.97,"day2":8,"p":8013,"p2":7724},{"day":48.91,"day2":59.93,"p":6795,"p2":6541}
],
"pinkbox":[{"day":102.9,"day2":118,"p":9040,"p2":8756}],
"tris":[
{"id":"t1","day":49.4,"p":7788,"p2":7788},{"id":"t1","day":55,"p":7771,"p2":6928},{"id":"t1","day":59,"p":7759,"p2":7759},
{"id":"t2","day":59,"p":7759,"p2":7759},{"id":"t2","day":78,"p":7705,"p2":6426},{"id":"t2","day":83,"p":7691,"p2":7691},
{"id":"t3","day":83,"p":7691,"p2":7691},{"id":"t3","day":94,"p":7668,"p2":6860},{"id":"t3","day":101.8,"p":7652,"p2":7652}
],
"tags":[
{"t":"11235.57","day":167.5,"day2":172.5,"mid":170,"p":11235.57,"k":"dred"},{"t":"10002.40","day":167.5,"day2":172.5,"mid":170,"p":10002.4,"k":"red"},{"t":"9725.74","day":167.5,"day2":172.5,"mid":170,"p":9725.74,"k":"dred"},{"t":"9422.72","day":167.5,"day2":172.5,"mid":170,"p":9422.72,"k":"dred"},{"t":"8772.29","day":167.5,"day2":172.5,"mid":170,"p":8772.29,"k":"dred"},{"t":"8724.16","day":167.5,"day2":172.5,"mid":170,"p":8674,"k":"grn"},{"t":"8402.17","day":167.5,"day2":172.5,"mid":170,"p":8402.17,"k":"dred"},{"t":"7634.58","day":167.5,"day2":172.5,"mid":170,"p":7634.58,"k":"dred"},{"t":"7190.44","day":167.5,"day2":172.5,"mid":170,"p":7190.44,"k":"red"},{"t":"6004.07","day":167.5,"day2":172.5,"mid":170,"p":6004.07,"k":"blk"}
],
"dates":[
{"t":"01 Июл '19","day":-18.98,"day2":-13.65,"mid":-16.3,"p":5528,"k":"a"},{"t":"26 Сен '19","day":-7.5,"day2":-2.5,"mid":-5,"p":5528,"k":"a"},{"t":"01 Окт '19","day":-2.5,"day2":2.5,"mid":0,"p":5528,"k":"a"},{"t":"27 Дек '19","day":84.5,"day2":89.5,"mid":87,"p":5528,"k":"a"},{"t":"01 Апр '20","day":162.2,"day2":167.3,"mid":164.75,"p":5528,"k":"a"},{"t":"30 Дек '19","day":87.5,"day2":92.5,"mid":90,"p":5528,"k":"b"}
],
"shoulders":[
{"t":"Левое плечо","day":51.3,"day2":58.7,"mid":55,"p":6826},{"t":"Голова","day":75.6,"day2":80.4,"mid":78,"p":6345},{"t":"Правое плечо","day":90.1,"day2":98.1,"mid":94.1,"p":6766}
],
"texts":[
{"t":"top_traders","day":-18.98,"p":12034,"k":"hb"},{"t":"опубликовал(а) на TradingView.com, Январь 20, 2020 06:01:28 +06","day":-13.21,"p":12034,"k":"h"},{"t":"COINBASE:BTCUSD, 1D","day":-18.98,"p":11935,"k":"hn"},{"t":"8724.16","day":-8.27,"p":11935,"k":"h"},{"t":"▲","day":-4.68,"p":11935,"k":"teal"},{"t":"+26.63 (+0.31%)","day":-3.31,"p":11935,"k":"h"},{"t":"O:","day":4.18,"p":11935,"k":"hb"},{"t":"8697.53","day":5.23,"p":11935,"k":"teal"},{"t":"H:","day":9.13,"p":11935,"k":"hb"},{"t":"8725.00","day":10.22,"p":11935,"k":"teal"},{"t":"L:","day":14.12,"p":11935,"k":"hb"},{"t":"8696.24","day":14.98,"p":11935,"k":"teal"},{"t":"C:","day":18.88,"p":11935,"k":"hb"},{"t":"8724.16","day":19.81,"p":11935,"k":"teal"},{"t":"TradingView","day":-16.85,"p":5329,"k":"h"}
],
"fibs":[
{"t":"3.618(10900.57)","day":166.7,"p":10893,"k":"a"},{"t":"3.236(10088.04)","day":166.7,"p":10081,"k":"b"},{"t":"2.618(8773.54)","day":166.7,"p":8757,"k":"c"},{"t":"1.618(6646.51)","day":166.7,"p":6636,"k":"d"}
],
"waves":[
{"t":"(X)","day":25,"p":10633},{"t":"(Y)","day":-4,"p":7759},{"t":"(Z)","day":78,"p":6322}
],
"logo":[{"day":-18.02,"p":5329}],
"wm1":[{"t":"BTCUSD, 1Д","day":74.4,"p":8971}],
"wm2":[{"t":"Биткоин / Доллар США","day":74.4,"p":8385}]
},
"resolve":{"scale":{"x":"independent","y":"independent","fill":"independent","color":"independent","stroke":"independent","strokeWidth":"independent","strokeDash":"independent"},"axis":{"x":"independent","y":"independent"}},
"layer":[
{"encoding":{"x":{"field":"day","type":"quantitative","scale":{"domain":[-18.98,167.4],"nice":false,"zero":false},"axis":null},"y":{"field":"p","type":"quantitative","scale":{"domain":[5599,11857],"nice":false,"zero":false},"axis":{"orient":"right","values":[5800,6000,6200,6400,6600,6800,7000,7200,7400,7600,7800,8000,8200,8400,8600,8800,9000,9200,9400,9600,9800,10000,10200,10400,10600,10800,11000,11200,11400,11600,11800],"format":".2f","grid":true,"gridColor":"#cfcfcf","gridWidth":1.5,"domain":false,"tickColor":"#555555","tickSize":5,"labelColor":"#555555","labelFont":"Liberation Sans","labelFontSize":11.5,"labelPadding":5,"labelOverlap":false,"title":null}}},
"layer":[
{"data":{"name":"zones"},"mark":{"type":"rect","opacity":0.5},"encoding":{"x2":{"field":"day2"},"y2":{"field":"p2"},"fill":{"field":"k","type":"nominal","legend":null,"scale":{"domain":["a","b","c","d","e"],"range":["#e9c9c1","#d1c1ad","#e1e1e1","#fbe5e3","#e3e3f5"]}}}},
{"data":{"name":"wm1"},"mark":{"type":"text","font":"Liberation Sans","fontSize":90,"color":"#bde5f1","align":"center","baseline":"middle"},"encoding":{"text":{"field":"t"}}},
{"data":{"name":"wm2"},"mark":{"type":"text","font":"Liberation Sans","fontSize":48,"color":"#bde5f1","align":"center","baseline":"middle"},"encoding":{"text":{"field":"t"}}},
{"data":{"name":"tris"},"mark":{"type":"area","color":"#6f9640","opacity":0.38,"clip":true},"encoding":{"y2":{"field":"p2"},"detail":{"field":"id"}}},
{"data":{"name":"greenboxes"},"mark":{"type":"rect","color":"#50ff50","opacity":0.72,"stroke":"#22dd22","strokeWidth":1},"encoding":{"x2":{"field":"day2"},"y2":{"field":"p2"}}}
]},
{"data":{"name":"candles"},"encoding":{"x":{"field":"d","type":"temporal","scale":{"type":"utc","domain":["2019-09-12T00:29:00Z","2020-03-16T09:36:00Z"],"nice":false},"axis":null},"y":{"field":"v","type":"quantitative","scale":{"domain":[0,3201],"nice":false,"zero":false},"axis":null}},
"layer":[
{"mark":{"type":"bar","width":11.5,"opacity":0.25},"encoding":{"fill":{"condition":{"test":"datum.c>=datum.o","value":"#5fa87f"},"value":"#b5606f"}}},
{"mark":{"type":"area","color":"#7cc0ff","opacity":0.62},"encoding":{"y":{"field":"m","type":"quantitative","scale":{"domain":[0,3201],"nice":false,"zero":false},"axis":null}}}
]},
{"data":{"name":"candles"},"encoding":{"x":{"field":"d","type":"temporal","scale":{"type":"utc","domain":["2019-09-12T00:29:00Z","2020-03-16T09:36:00Z"],"nice":false},"axis":{"values":["2019-09-16T00:00:00Z","2019-09-23T00:00:00Z","2019-10-01T00:00:00Z","2019-10-07T00:00:00Z","2019-10-14T00:00:00Z","2019-10-21T00:00:00Z","2019-11-01T00:00:00Z","2019-11-11T00:00:00Z","2019-11-18T00:00:00Z","2019-11-25T00:00:00Z","2019-12-01T00:00:00Z","2019-12-09T00:00:00Z","2019-12-16T00:00:00Z","2019-12-23T00:00:00Z","2020-01-01T00:00:00Z","2020-01-07T00:00:00Z","2020-01-13T00:00:00Z","2020-01-20T00:00:00Z","2020-01-26T00:00:00Z","2020-02-01T00:00:00Z","2020-02-10T00:00:00Z","2020-02-17T00:00:00Z","2020-02-24T00:00:00Z","2020-03-01T00:00:00Z","2020-03-09T00:00:00Z"],"labelExpr":"{'1001':'Окт','1101':'Ноя','1201':'Дек','0101':'2020','0201':'Фев','0301':'Мар'}[utcFormat(datum.value,'%m%d')]||utcFormat(datum.value,'%-d')","grid":true,"gridColor":"#cfcfcf","gridWidth":1,"domain":false,"ticks":true,"tickColor":"#555555","tickSize":5,"labelColor":"#555555","labelFont":"Liberation Sans","labelFontSize":12,"labelPadding":3,"labelOverlap":false,"labelFlush":false,"title":null}}},
"layer":[
{"mark":{"type":"rule","color":"#555555","strokeWidth":1},"encoding":{"y":{"field":"l","type":"quantitative","scale":{"domain":[5599,11857],"nice":false,"zero":false},"axis":null},"y2":{"field":"h"}}},
{"mark":{"type":"bar","width":8,"strokeWidth":1},"encoding":{"y":{"field":"o","type":"quantitative","scale":{"domain":[5599,11857],"nice":false,"zero":false},"axis":null},"y2":{"field":"c"},"fill":{"condition":{"test":"datum.c>=datum.o","value":"#70b87c"},"value":"#e56f6f"},"stroke":{"condition":{"test":"datum.c>=datum.o","value":"#2c5c38"},"value":"#7a1a1a"}}},
{"mark":{"type":"line","interpolate":"step-after","color":"#000000","strokeWidth":3},"encoding":{"y":{"field":"k","type":"quantitative","scale":{"domain":[5599,11857],"nice":false,"zero":false},"axis":null}}}
]},
{"encoding":{"x":{"field":"day","type":"quantitative","scale":{"domain":[-18.98,167.4],"nice":false,"zero":false},"axis":null},"y":{"field":"p","type":"quantitative","scale":{"domain":[5599,11857],"nice":false,"zero":false},"axis":null}},
"resolve":{"scale":{"color":"independent","strokeWidth":"independent","strokeDash":"independent"}},
"layer":[
{"data":{"name":"rules"},"transform":[{"filter":{"field":"k","oneOf":["dred","red2","blk"]}}],"mark":{"type":"rule","strokeWidth":4.5,"opacity":0.55},"encoding":{"x2":{"field":"day2"},"y2":{"field":"p2"},"color":{"field":"k","type":"nominal","legend":null,"scale":{"domain":["dred","red2","blk"],"range":["#d03a30","#ff9a9a","#777777"]}}}},
{"data":{"name":"rules"},"mark":{"type":"rule"},"encoding":{"x2":{"field":"day2"},"y2":{"field":"p2"},"color":{"field":"k","type":"nominal","legend":null,"scale":{"domain":["dred","blkthin","grn","red","dot","red2","navy","blk","vert"],"range":["#7a0000","#111111","#9dbb4a","#e60000","#6aa06a","#ff0000","#2a2aa0","#000000","#ee0000"]}},"strokeWidth":{"field":"k","type":"nominal","legend":null,"scale":{"type":"ordinal","domain":["dred","blkthin","grn","red","dot","red2","navy","blk","vert"],"range":[1.5,1,1,3.5,1,1.5,1,2,3]}},"strokeDash":{"field":"k","type":"nominal","legend":null,"scale":{"type":"ordinal","domain":["dred","blkthin","grn","red","dot","red2","navy","blk","vert"],"range":[[1,0],[1,0],[1,0],[1,0],[1,2],[1,0],[1,0],[1,0],[1,0]]}}}},
{"data":{"name":"lines"},"mark":{"type":"line","clip":true},"encoding":{"order":{"field":"i","type":"quantitative"},"detail":{"field":"id"},"color":{"field":"s","type":"nominal","legend":null,"scale":{"domain":["trend","dot","thin","zig","neck","edge","dred","dgrn","gtri","rscr","gscr","arc","mag","ora","blu","rth"],"range":["#8a1fe0","#8a1fe0","#9b30e0","#111111","#66734a","#55603c","#8b3a3a","#3c5a24","#6f9f50","#ee1111","#22e022","#22dd22","#e81fe8","#f57a14","#4f86b5","#ec6a60"]}},"strokeWidth":{"field":"s","type":"nominal","legend":null,"scale":{"type":"ordinal","domain":["trend","dot","thin","zig","neck","edge","dred","dgrn","gtri","rscr","gscr","arc","mag","ora","blu","rth"],"range":[3,2.5,1,1,2,1,1,2,2.5,2,2,2.5,3,3.5,1.2,1.2]}},"strokeDash":{"field":"s","type":"nominal","legend":null,"scale":{"type":"ordinal","domain":["trend","dot","thin","zig","neck","edge","dred","dgrn","gtri","rscr","gscr","arc","mag","ora","blu","rth"],"range":[[1,0],[2.5,5],[1,0],[1,0],[1,0],[1,0],[1,0],[1,0],[1,0],[1,0],[1,0],[1,0],[1,0],[1,0],[1,0],[1,0]]}}}},
{"data":{"name":"pinkbox"},"mark":{"type":"rect","color":"#d55f3e","opacity":0.45,"stroke":"#b8503a","strokeWidth":1},"encoding":{"x2":{"field":"day2"},"y2":{"field":"p2"}}}
]},
{"data":{"name":"profile"},"encoding":{"x":{"field":"sell","type":"quantitative","scale":{"domain":[0,2389.4],"reverse":true,"nice":false,"zero":false},"axis":null},"y":{"field":"p","type":"quantitative","scale":{"domain":[5599,11857],"nice":false,"zero":false},"axis":null}},
"layer":[
{"transform":[{"filter":"datum.z=='out'"}],"mark":{"type":"area","orient":"horizontal","color":"#fdc44a","opacity":0.3},"encoding":{"x2":{"field":"buy"}}},
{"transform":[{"filter":"datum.z=='low'"}],"mark":{"type":"area","orient":"horizontal","color":"#fdc44a","opacity":0.3},"encoding":{"x2":{"field":"buy"}}},
{"transform":[{"filter":"datum.z=='va'"}],"mark":{"type":"area","orient":"horizontal","color":"#fdc44a","opacity":0.88},"encoding":{"x2":{"field":"buy"}}},
{"transform":[{"filter":"datum.z=='out'"}],"mark":{"type":"area","orient":"horizontal","color":"#4ca6e8","opacity":0.32},"encoding":{"x":{"field":"buy","type":"quantitative","scale":{"domain":[0,2389.4],"reverse":true,"nice":false,"zero":false},"axis":null},"x2":{"datum":0}}},
{"transform":[{"filter":"datum.z=='low'"}],"mark":{"type":"area","orient":"horizontal","color":"#4ca6e8","opacity":0.32},"encoding":{"x":{"field":"buy","type":"quantitative","scale":{"domain":[0,2389.4],"reverse":true,"nice":false,"zero":false},"axis":null},"x2":{"datum":0}}},
{"transform":[{"filter":"datum.z=='va'"}],"mark":{"type":"area","orient":"horizontal","color":"#4ca6e8","opacity":0.95},"encoding":{"x":{"field":"buy","type":"quantitative","scale":{"domain":[0,2389.4],"reverse":true,"nice":false,"zero":false},"axis":null},"x2":{"datum":0}}}
]},
{"encoding":{"x":{"field":"day","type":"quantitative","scale":{"domain":[-18.98,167.4],"nice":false,"zero":false},"axis":null},"y":{"field":"p","type":"quantitative","scale":{"domain":[5599,11857],"nice":false,"zero":false},"axis":null}},
"resolve":{"scale":{"color":"independent","fill":"independent"}},
"layer":[
{"data":{"name":"frame"},"mark":{"type":"rule","color":"#555555","strokeWidth":1.5},"encoding":{"x2":{"field":"day2"},"y2":{"field":"p2"}}},
{"data":{"name":"fibs"},"mark":{"type":"text","align":"right","baseline":"middle","font":"Liberation Sans","fontSize":13},"encoding":{"text":{"field":"t"},"color":{"field":"k","type":"nominal","legend":null,"scale":{"domain":["a","b","c","d"],"range":["#222222","#a8c060","#a04a70","#4a5fc0"]}}}},
{"data":{"name":"tags"},"mark":{"type":"bar","orient":"horizontal","height":17},"encoding":{"x2":{"field":"day2"},"fill":{"field":"k","type":"nominal","legend":null,"scale":{"domain":["dred","red","blk","grn"],"range":["#8b0000","#ff0000","#000000","#7fc77f"]}}}},
{"data":{"name":"tags"},"mark":{"type":"text","align":"center","baseline":"middle","font":"Liberation Sans","fontSize":12},"encoding":{"x":{"field":"mid","type":"quantitative","scale":{"domain":[-18.98,167.4],"nice":false,"zero":false},"axis":null},"text":{"field":"t"},"color":{"condition":{"test":"datum.k=='grn'","value":"#000000"},"value":"#ffffff"}}},
{"data":{"name":"dates"},"transform":[{"filter":"datum.k=='a'"}],"mark":{"type":"bar","orient":"horizontal","height":22,"color":"#ff0000"},"encoding":{"x2":{"field":"day2"}}},
{"data":{"name":"dates"},"transform":[{"filter":"datum.k=='a'"}],"mark":{"type":"text","align":"center","baseline":"middle","font":"Liberation Sans","fontSize":11.5,"color":"#ffffff"},"encoding":{"x":{"field":"mid","type":"quantitative","scale":{"domain":[-18.98,167.4],"nice":false,"zero":false},"axis":null},"text":{"field":"t"}}},
{"data":{"name":"dates"},"transform":[{"filter":"datum.k=='b'"}],"mark":{"type":"bar","orient":"horizontal","height":22,"color":"#ff0000"},"encoding":{"x2":{"field":"day2"}}},
{"data":{"name":"dates"},"transform":[{"filter":"datum.k=='b'"}],"mark":{"type":"text","align":"center","baseline":"middle","font":"Liberation Sans","fontSize":11.5,"color":"#ffffff"},"encoding":{"x":{"field":"mid","type":"quantitative","scale":{"domain":[-18.98,167.4],"nice":false,"zero":false},"axis":null},"text":{"field":"t"}}},
{"data":{"name":"shoulders"},"mark":{"type":"bar","orient":"horizontal","height":20,"color":"#44622f","cornerRadius":3},"encoding":{"x2":{"field":"day2"}}},
{"data":{"name":"shoulders"},"mark":{"type":"text","align":"center","baseline":"middle","font":"Liberation Serif","fontSize":13,"color":"#f2f2e6"},"encoding":{"x":{"field":"mid","type":"quantitative","scale":{"domain":[-18.98,167.4],"nice":false,"zero":false},"axis":null},"text":{"field":"t"}}},
{"data":{"name":"waves"},"mark":{"type":"text","align":"center","baseline":"middle","font":"Liberation Sans","fontSize":18,"color":"#111111"},"encoding":{"text":{"field":"t"}}},
{"data":{"name":"texts"},"transform":[{"filter":{"field":"k","oneOf":["h","teal"]}}],"mark":{"type":"text","align":"left","baseline":"middle","font":"Liberation Sans","fontSize":12.5},"encoding":{"text":{"field":"t"},"color":{"field":"k","type":"nominal","legend":null,"scale":{"domain":["h","teal"],"range":["#444444","#2ba39a"]}}}},
{"data":{"name":"texts"},"transform":[{"filter":"datum.k=='hb'"}],"mark":{"type":"text","align":"left","baseline":"middle","font":"Liberation Sans","fontSize":12.5,"fontWeight":"bold","color":"#222222"},"encoding":{"text":{"field":"t"}}},
{"data":{"name":"texts"},"transform":[{"filter":"datum.k=='hn'"}],"mark":{"type":"text","align":"left","baseline":"middle","font":"Liberation Sans","fontSize":10,"fontWeight":"bold","color":"#222222"},"encoding":{"text":{"field":"t"}}},
{"data":{"name":"logo"},"mark":{"type":"point","filled":true,"opacity":1,"color":"#3a9fe8","size":676,"shape":"M-1,0.45 L-0.45,-0.55 L-0.1,-0.05 L0.35,-0.85 L1,0.35 L0.55,0.8 L0.3,0.15 L-0.05,0.8 L-0.45,0.2 L-0.7,0.8 Z"},"encoding":{}}
]}
]}
